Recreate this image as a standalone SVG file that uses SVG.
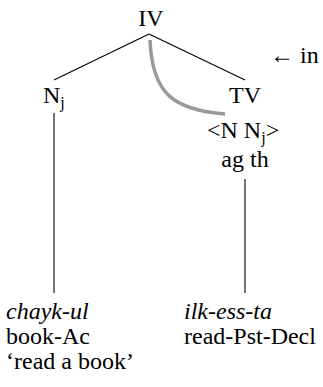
<svg xmlns="http://www.w3.org/2000/svg" width="323" height="387" viewBox="0 0 323 387">
<style>
text { font-family: "Liberation Serif", "Times New Roman", serif; font-size: 24px; fill: #000; }
.c { text-anchor: middle; }
.i { font-style: italic; }
.sub { font-size: 16px; }
.edge { stroke: #000; stroke-width: 1.1; fill: none; }
.curve { stroke: #999; stroke-width: 3.5; fill: none; }
</style>
<rect width="323" height="387" fill="#fff"/>
<g id="connectors">
<line class="edge" x1="149" y1="34" x2="54" y2="80"/>
<line class="edge" x1="149" y1="34" x2="245" y2="80"/>
<line class="edge" x1="54" y1="113" x2="54" y2="293"/>
<line class="edge" x1="245" y1="179" x2="245" y2="293"/>
<path class="curve" d="M150,40 C152,95 175,110 225,114"/>
</g>
<g id="IV"><text class="c" x="151" y="26">IV</text></g>
<g id="Nj"><text x="43" y="103">N<tspan class="sub" dy="5">j</tspan></text></g>
<g id="TV">
<text class="c" x="245" y="103">TV</text>
<text x="207" y="138">&lt;N N<tspan class="sub" dy="5">j</tspan><tspan dy="-5">&gt;</tspan></text>
<text class="c" x="245" y="167">ag th</text>
</g>
<g id="note"><text x="270" y="63">&#8592; in</text></g>
<g id="left-gloss">
<text class="i" x="6" y="319">chayk-ul</text>
<text x="6" y="344">book-Ac</text>
<text x="6" y="369">&#8216;read a book&#8217;</text>
</g>
<g id="right-gloss">
<text class="i" x="184" y="319">ilk-ess-ta</text>
<text x="184" y="344">read-Pst-Decl</text>
</g>
</svg>
